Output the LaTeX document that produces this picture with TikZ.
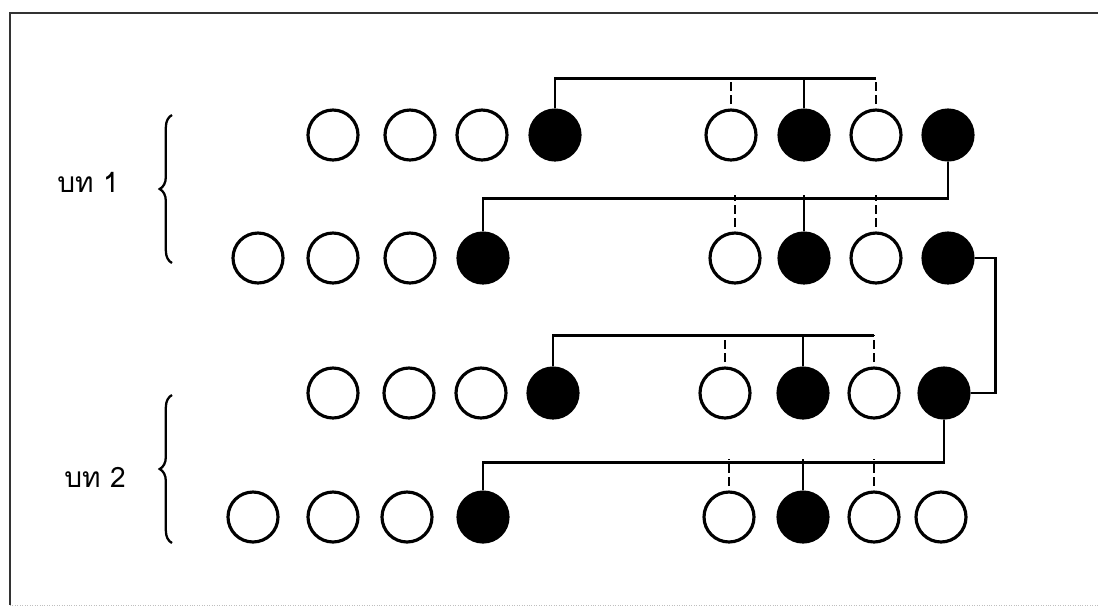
\documentclass[tikz,border=0pt]{standalone}
\usepackage{fontspec}
\newfontfamily\thaifont[Script=Thai]{Loma}
\usetikzlibrary{decorations.pathreplacing}

\begin{document}
\begin{tikzpicture}[
  x=0.02cm, y=-0.02cm,
  bead/.style={circle, draw, line width=1.8pt, minimum size=1cm, inner sep=0pt},
  openbead/.style={bead, fill=white},
  fullbead/.style={bead, fill=black},
  link/.style={line width=1.4pt},
  droplink/.style={link, dash pattern=on 5pt off 2.5pt, dash phase=-2.5pt},
  lab/.style={font=\thaifont\fontsize{16}{19}\selectfont},
  curly/.style={decorate, decoration={brace, amplitude=7pt}, line width=1.3pt}
]
\useasboundingbox (0,0) rectangle (1098,610);
% frame
\draw[line width=1.4pt, black!80] (1098,13) -- (10,13) -- (10,605);
\draw[densely dotted, black!25] (10,605) -- (1098,605);

% labels and braces
\node[lab] (lab1) at (88,182) {บท 1};
\node[lab] (lab2) at (95,477) {บท 2};
\draw[curly] (172,263) -- (172,115);
\draw[curly] (172,543) -- (172,395);

% rows of beads
\foreach \n/\x/\f in {1/333/openbead,2/410/openbead,3/482/openbead,4/555/fullbead,
                      5/731/openbead,6/804/fullbead,7/876/openbead,8/948/fullbead}
  \node[\f] (a\n) at (\x,135) {};
\foreach \n/\x/\f in {1/258/openbead,2/333/openbead,3/410/openbead,4/483/fullbead,
                      5/735/openbead,6/804/fullbead,7/876/openbead,8/948/fullbead}
  \node[\f] (b\n) at (\x,258) {};
\foreach \n/\x/\f in {1/333/openbead,2/409/openbead,3/481/openbead,4/553/fullbead,
                      5/725/openbead,6/803/fullbead,7/874/openbead,8/944/fullbead}
  \node[\f] (c\n) at (\x,393) {};
\foreach \n/\x/\f in {1/253/openbead,2/333/openbead,3/407/openbead,4/483/fullbead,
                      5/729/openbead,6/803/fullbead,7/874/openbead,8/941/openbead}
  \node[\f] (d\n) at (\x,517) {};

% row 1
\draw[link] (a4.north) -- ++(0,-30) coordinate (bar1) -- (bar1 -| a7.north);
\draw[droplink] (a5.north) -- ++(0,-30);
\draw[link] (a6.north) -- ++(0,-30);
\draw[droplink] (a7.north) -- ++(0,-30);

% row 1 to row 2
\draw[link] (a8.south) -- ++(0,37) -| (b4.north);
\draw[droplink] (b5.north) -- ++(0,-36);
\draw[link] (b6.north) -- ++(0,-36);
\draw[droplink] (b7.north) -- ++(0,-36);

% row 2 to row 3
\draw[link] (b8.east) -- ++(21,0) |- (c8.east);

% row 3
\draw[link] (c4.north) -- ++(0,-31) coordinate (bar3) -- (bar3 -| c7.north);
\draw[droplink] (c5.north) -- ++(0,-31);
\draw[link] (c6.north) -- ++(0,-31);
\draw[droplink] (c7.north) -- ++(0,-31);

% row 3 to row 4
\draw[link] (c8.south) -- ++(0,43) -| (d4.north);
\draw[droplink] (d5.north) -- ++(0,-31);
\draw[link] (d6.north) -- ++(0,-31);
\draw[droplink] (d7.north) -- ++(0,-31);
\end{tikzpicture}
\end{document}
